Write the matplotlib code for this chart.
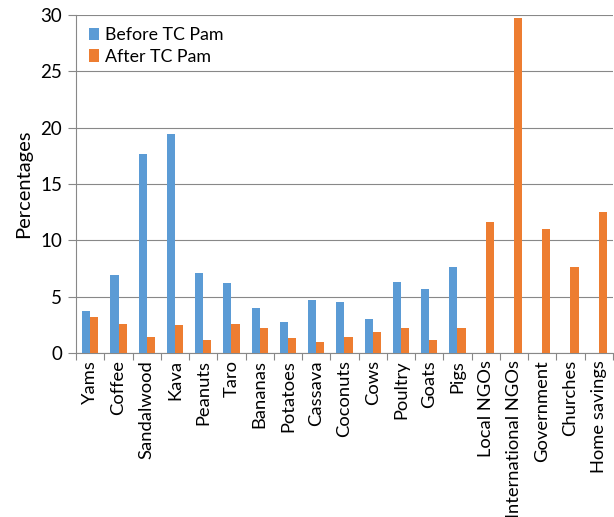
import matplotlib
matplotlib.use("Agg")
import matplotlib.pyplot as plt
import numpy as np

categories = ["Yams", "Coffee", "Sandalwood", "Kava", "Peanuts", "Taro", "Bananas",
              "Potatoes", "Cassava", "Coconuts", "Cows", "Poultry", "Goats", "Pigs",
              "Local NGOs", "International NGOs", "Government", "Churches", "Home savings"]
before = [3.7, 6.9, 17.7, 19.4, 7.1, 6.2, 4.0, 2.8, 4.7, 4.5, 3.0, 6.3, 5.7, 7.6,
          0, 0, 0, 0, 0]
after = [3.2, 2.6, 1.45, 2.5, 1.15, 2.6, 2.2, 1.3, 1.0, 1.4, 1.9, 2.2, 1.15, 2.2,
         11.6, 29.7, 11.0, 7.6, 12.5]

plt.rcParams["font.family"] = ["Lato", "DejaVu Sans"]

fig = plt.figure(figsize=(6.14, 5.17), dpi=100)
ax = fig.add_axes([0.124, 0.317, 0.874, 0.654])

x = np.arange(len(categories))
w = 0.29
ax.bar(x - w / 2, before, w, color="#5B9BD5", label="Before TC Pam", zorder=3)
ax.bar(x + w / 2, after, w, color="#ED7D31", label="After TC Pam", zorder=3)

ax.set_xlim(-0.5, len(categories) - 0.5)
ax.set_ylim(0, 30)
ax.set_yticks(range(0, 31, 5))
ax.yaxis.grid(True, color="#888888", linewidth=0.8, zorder=0)
ax.tick_params(axis="y", length=6, color="#888888", width=0.8, labelsize=13.5, pad=4)

ax.set_xticks(x)
ax.set_xticklabels(categories, rotation=90, fontsize=13.2)
ax.set_xticks(np.arange(-0.5, len(categories), 1), minor=True)
ax.tick_params(axis="x", which="major", length=0, pad=5)
ax.tick_params(axis="x", which="minor", length=5, color="#888888", width=0.8)

for s in ["top", "right"]:
    ax.spines[s].set_visible(False)
for s in ["left", "bottom"]:
    ax.spines[s].set_color("#888888")
    ax.spines[s].set_linewidth(0.8)

ax.set_ylabel("Percentages", fontsize=14.5, labelpad=6)
ax.legend(loc="upper left", frameon=False, fontsize=12.8, handlelength=0.6,
          handleheight=0.7, handletextpad=0.3, labelspacing=0.3,
          borderaxespad=0.3)

fig.savefig("out.png", dpi=100, facecolor="white")
